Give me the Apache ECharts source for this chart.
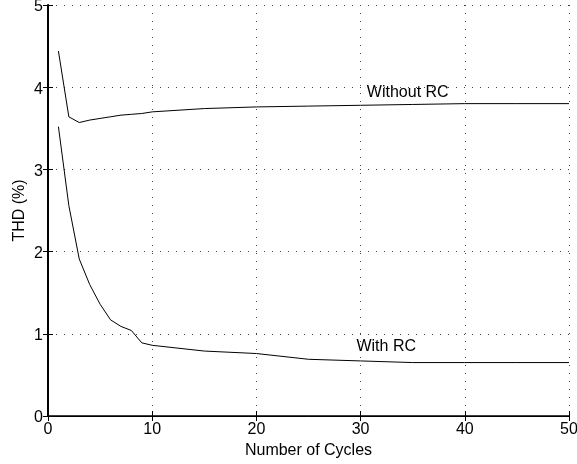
<!DOCTYPE html>
<html><head><meta charset="utf-8">
<script src="https://cdn.jsdelivr.net/npm/echarts@6/dist/echarts.min.js"></script>
<style>html,body{margin:0;padding:0;background:#fff}#c{width:577px;height:464px}</style>
</head><body><div id="c"></div>
<script>
const cyclesWithout = [1,2,3,4,5,6,7,8,9,10,15,20,25,30,35,40,45,50];
const thdWithout = [4.44,3.64,3.57,3.60,3.62,3.64,3.66,3.67,3.68,3.70,3.74,3.76,3.77,3.78,3.79,3.80,3.80,3.80];
const cyclesWith = [1,2,3,4,5,6,7,8,9,10,15,20,25,30,35,40,45,50];
const thdWith = [3.52,2.56,1.91,1.60,1.36,1.17,1.09,1.04,0.89,0.86,0.79,0.76,0.69,0.67,0.65,0.65,0.65,0.65];
const xTicks = [0,10,20,30,40,50];
const yTicks = [0,1,2,3,4,5];
const labelWithout = {text:'Without RC', x:30.6, y:3.935};
const labelWith = {text:'With RC', x:29.6, y:0.85};

const font = 'Liberation Sans, Arial, sans-serif';
const chart = echarts.init(document.getElementById('c'));
const gridDot = {show:true, lineStyle:{color:'#444', type:[1,7], width:1}};
chart.setOption({
  animation:false,
  backgroundColor:'#fff',
  grid:{left:48, right:8, top:5, bottom:48, outerBoundsMode:'none', containLabel:false},
  xAxis:[{
    type:'value', min:0, max:50, interval:10,
    name:'Number of Cycles', nameLocation:'middle', nameGap:27, nameMoveOverlap:false,
    nameTextStyle:{color:'#000', fontSize:16, fontFamily:font},
    axisLine:{lineStyle:{color:'#000', width:1.5}},
    axisTick:{inside:true, length:5, lineStyle:{color:'#000'}},
    axisLabel:{color:'#000', fontSize:16, fontFamily:font, margin:6},
    splitLine:gridDot
  },{
    type:'value', min:0, max:50, interval:10, position:'top',
    axisLine:{lineStyle:{color:'#000', width:1}},
    axisTick:{inside:true, length:5, lineStyle:{color:'#000'}},
    axisLabel:{show:false}, splitLine:{show:false}
  }],
  yAxis:[{
    type:'value', min:0, max:5, interval:1,
    name:'THD (%)', nameLocation:'middle', nameGap:20, nameRotate:90, nameMoveOverlap:false,
    nameTextStyle:{color:'#000', fontSize:16, fontFamily:font},
    axisLine:{lineStyle:{color:'#000', width:2}},
    axisTick:{inside:true, length:5, lineStyle:{color:'#000'}},
    axisLabel:{color:'#000', fontSize:16, fontFamily:font, margin:5,
      formatter:'{a|{value}}', rich:{a:{fontSize:16, fontFamily:font, color:'#000', padding:[4,0,0,0]}}},
    splitLine:gridDot
  },{
    type:'value', min:0, max:5, interval:1, position:'right',
    axisLine:{lineStyle:{color:'#000', width:1}},
    axisTick:{inside:true, length:5, lineStyle:{color:'#000'}},
    axisLabel:{show:false}, splitLine:{show:false}
  }],
  series:[{
    type:'line', symbol:'none', lineStyle:{color:'#000', width:1},
    data:cyclesWithout.map((c,i)=>[c,thdWithout[i]]),
    markPoint:{symbol:'circle', symbolSize:0, data:[{coord:[labelWithout.x,labelWithout.y], value:labelWithout.text}],
      label:{show:true, position:'right', distance:0, formatter:labelWithout.text, color:'#000', fontSize:16, fontFamily:font}}
  },{
    type:'line', symbol:'none', lineStyle:{color:'#000', width:1},
    data:cyclesWith.map((c,i)=>[c,thdWith[i]]),
    markPoint:{symbol:'circle', symbolSize:0, data:[{coord:[labelWith.x,labelWith.y], value:labelWith.text}],
      label:{show:true, position:'right', distance:0, formatter:labelWith.text, color:'#000', fontSize:16, fontFamily:font}}
  }]
});
</script></body></html>
